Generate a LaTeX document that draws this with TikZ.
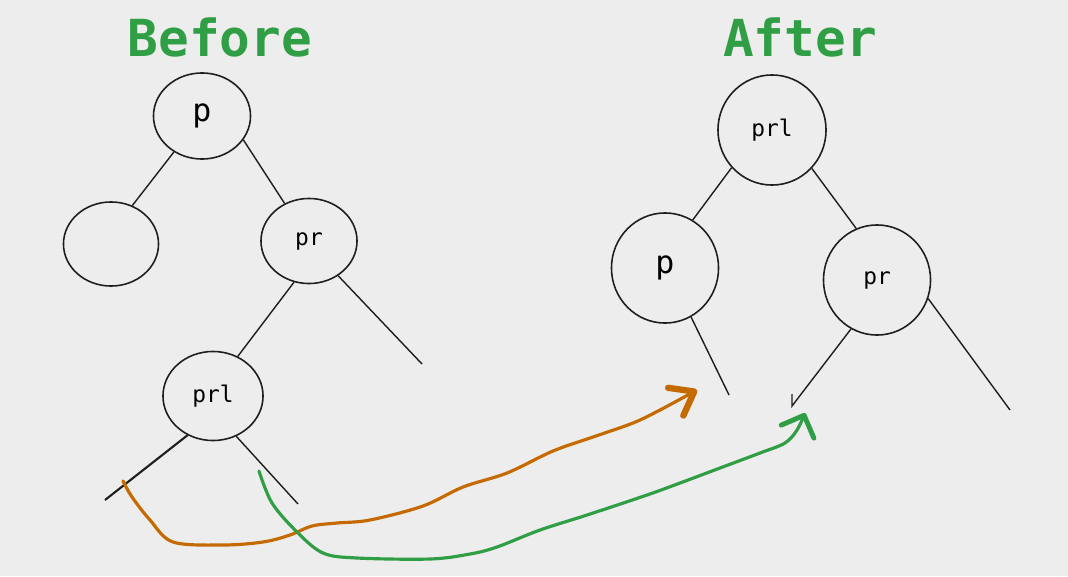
\documentclass[tikz,border=0pt]{standalone}
\usepackage{fontspec}
\setmonofont{DejaVu Sans Mono}
\usetikzlibrary{shapes.geometric,arrows.meta}

\definecolor{paper}{RGB}{237,237,237}
\definecolor{ink}{RGB}{30,30,30}
\definecolor{movegreen}{RGB}{47,158,68}
\definecolor{moveorange}{RGB}{196,106,0}

\begin{document}
\begin{tikzpicture}[x=0.01cm,y=-0.01cm,
	bubble/.style={draw=ink,line width=0.45pt,ellipse,inner sep=0pt,font=\ttfamily\fontsize{6.5}{8}\selectfont},
	edge/.style={draw=ink,line width=0.4pt},
	heading/.style={text=movegreen,font=\ttfamily\bfseries\fontsize{14.5}{17}\selectfont,anchor=base},
	move/.style={line width=0.9pt,line cap=round,line join=round}]

	\fill[paper] (0,0) rectangle (1068,576);
	\useasboundingbox (0,0) rectangle (1068,576);

	\node[heading] (before) at (220,57) {Before};
	\node[heading] (after) at (800,57) {After};

	% The tree before the rotation
	\node[bubble,minimum width=0.97cm,minimum height=0.86cm,font=\ttfamily\fontsize{9}{11}\selectfont] (bp) at (202,116) {p};
	\node[bubble,minimum width=0.95cm,minimum height=0.84cm] (bl) at (111,244) {};
	\node[bubble,minimum width=0.96cm,minimum height=0.85cm] (bpr) at (309,241) {pr};
	\node[bubble,minimum width=1.00cm,minimum height=0.89cm] (bprl) at (213,396) {prl};
	\coordinate (bprend) at (422,364);
	\coordinate (bprlleft) at (105,500);
	\coordinate (bprlright) at (298,504);

	\draw[edge] (bp.-128) -- (bl.61);
	\draw[edge] (bp.-30) -- (bpr.123);
	\draw[edge] (bpr.-110) -- (bprl.58);
	\draw[edge] (bpr.-50) -- (bprend);
	\draw[edge,line width=0.6pt] (bprl.-123) -- (bprlleft);
	\draw[edge] (bprl.-60) -- (bprlright);

	% The tree after the rotation
	\node[bubble,minimum width=1.08cm,minimum height=1.10cm] (aprl) at (772,130) {prl};
	\node[bubble,minimum width=1.07cm,minimum height=1.10cm,font=\ttfamily\fontsize{9}{11}\selectfont] (ap) at (665,268) {p};
	\node[bubble,minimum width=1.07cm,minimum height=1.10cm] (apr) at (877,280) {pr};
	\coordinate (apend) at (729,395);
	\coordinate (aprleft) at (792,406);
	\coordinate (aprright) at (1010,410);

	\draw[edge] (aprl.-137) -- (ap.60);
	\draw[edge] (aprl.-44) -- (apr.112);
	\draw[edge] (ap.-62) -- (apend);
	\draw[edge] (apr.-118) -- (aprleft) -- ++(0,-12);
	\draw[edge] (apr.-20) -- (aprright);

	% Where the subtrees move to
	\coordinate (ostart) at (123,481);
	\coordinate (oend) at (697,390);
	\coordinate (gstart) at (259,471);
	\coordinate (gend) at (805,413);

	\draw[move,moveorange,-{Straight Barb[length=6pt,width=9pt,line width=1.8pt,round]}]
		plot[smooth,tension=0.55] coordinates {(ostart) (132,497) (150,520) (173,542) (223,545) (263,542) (290,535) (312,526) (337,523) (370,520) (423,506) (463,487) (507,473) (553,451) (593,437) (633,423) (660,410) (oend)};
	\draw[move,movegreen,-{Straight Barb[length=5pt,width=10pt,line width=1.4pt,round]}]
		plot[smooth,tension=0.55] coordinates {(gstart) (272,503) (297,532) (323,553) (357,558) (430,559) (470,554) (497,547) (540,530) (587,515) (647,495) (680,483) (720,468) (760,453) (785,443) (797,430) (gend)};
\end{tikzpicture}
\end{document}
